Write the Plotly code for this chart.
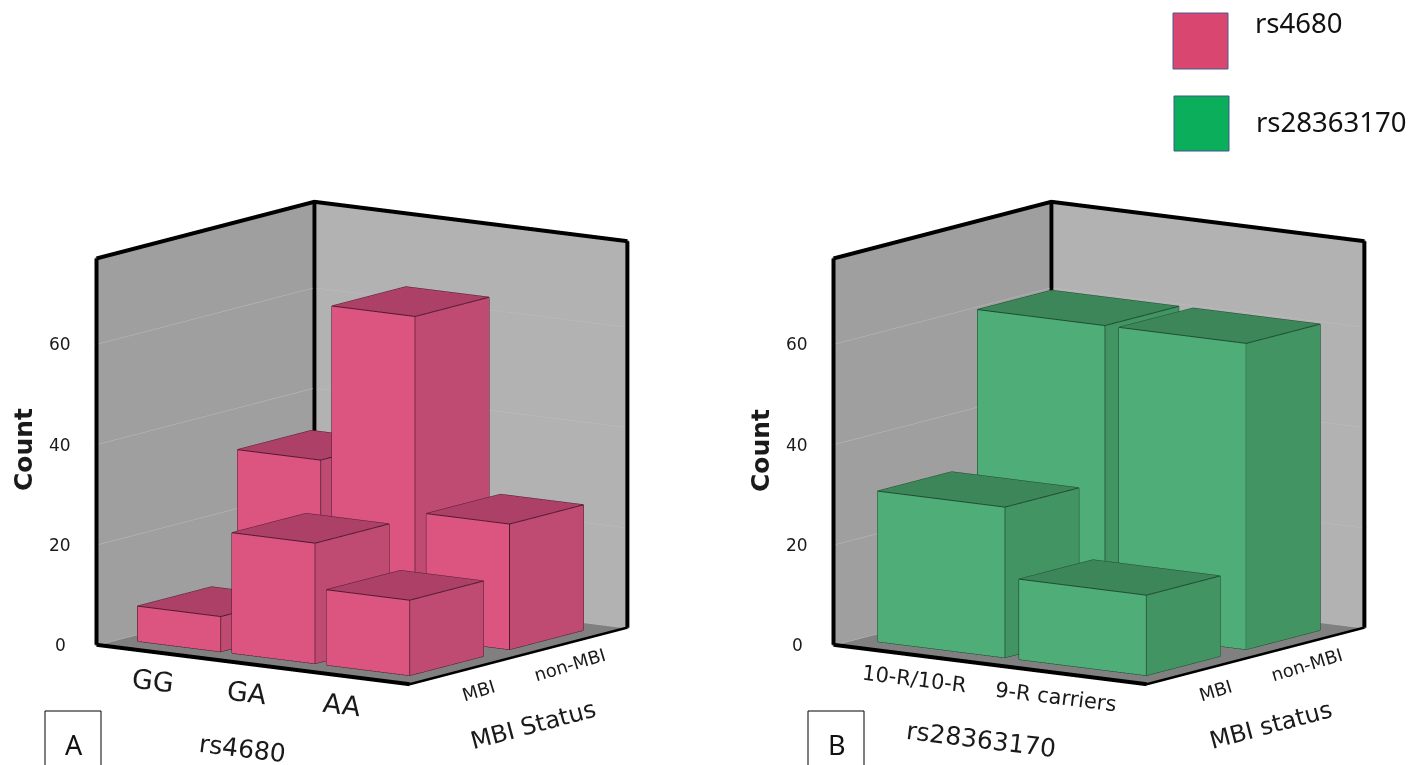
import plotly.graph_objects as go

# ---- data ----
cats_a = ["GG", "GA", "AA"]
cats_b = ["10-R/10-R", "9-R carriers"]
status = ["MBI", "non-MBI"]
mbi_a = [7, 24, 15]
non_a = [33, 64, 25]
mbi_b = [30, 16]
non_b = [61, 61]
z_ticks = [0, 20, 40, 60]
legend_names = ["rs4680", "rs28363170"]

# ---- style ----
W, H = 1422, 765
PINK = dict(front="#dc5580", side="#bf4b72", top="#ac4066", edge="#4d1a30")
GREEN = dict(front="#4fae78", side="#429562", top="#3c8659", edge="#1d4a30")
Z_MAX = 77.4
Y_RANGE = [-0.629, 1.564]
BAR_Y = 0.37
CAM_DIST = 2.0
DIR = (0.565, -0.812, 0.182)


def bar(ix, iy, v, hw, st):
    x0, x1, y0, y1 = ix - hw, ix + hw, iy - BAR_Y, iy + BAR_Y
    xs = [x0, x1, x1, x0, x0, x1, x1, x0]
    ys = [y0, y0, y1, y1, y0, y0, y1, y1]
    zs = [0, 0, 0, 0, v, v, v, v]
    tris = [(0, 1, 5, "front"), (0, 5, 4, "front"), (1, 2, 6, "side"), (1, 6, 5, "side"),
            (4, 5, 6, "top"), (4, 6, 7, "top"), (2, 3, 7, "side"), (2, 7, 6, "side"),
            (3, 0, 4, "side"), (3, 4, 7, "side"), (0, 2, 1, "side"), (0, 3, 2, "side")]
    mesh = go.Mesh3d(x=xs, y=ys, z=zs, i=[t[0] for t in tris], j=[t[1] for t in tris],
                     k=[t[2] for t in tris], facecolor=[st[t[3]] for t in tris],
                     flatshading=True, hoverinfo="skip", showscale=False,
                     lighting=dict(ambient=1, diffuse=0, specular=0, roughness=1, fresnel=0))
    ex, ey, ez = [], [], []
    for a, b in [(0, 1), (1, 2), (4, 5), (5, 6), (6, 7), (7, 4), (0, 4), (1, 5), (2, 6), (3, 0)]:
        ex += [xs[a], xs[b], None]
        ey += [ys[a], ys[b], None]
        ez += [zs[a], zs[b], None]
    edge = go.Scatter3d(x=ex, y=ey, z=ez, mode="lines", line=dict(color=st["edge"], width=2),
                        hoverinfo="skip", showlegend=False)
    return [mesh, edge]


def frame(xr, scene):
    ex_ = (xr[1] - xr[0]) * 0.003
    ey_ = (Y_RANGE[1] - Y_RANGE[0]) * 0.003
    a, b = xr[0] + ex_, xr[1] - ex_
    c, d = Y_RANGE[0] + ey_, Y_RANGE[1] - ey_
    l, z = 0.2, Z_MAX - 0.2
    ex = [a, a, None, a, a, b, None, a, b, None, a, a, None, b, b, None, a, b]
    ey = [c, c, None, c, d, d, None, c, c, None, d, d, None, d, d, None, d, d]
    ez = [l, z, None, z, z, z, None, l, l, None, l, z, None, l, z, None, z, z]
    thick = go.Scatter3d(x=ex, y=ey, z=ez, mode="lines", line=dict(color="black", width=8),
                         hoverinfo="skip", showlegend=False, scene=scene)
    thin = go.Scatter3d(x=[b, b], y=[c, d], z=[l, l], mode="lines", line=dict(color="black", width=5),
                        hoverinfo="skip", showlegend=False, scene=scene)
    return [thick, thin]


def scene_layout(xr, cats, cat_shift, dom_x):
    notes = []
    for i, c in enumerate(cats):
        notes.append(dict(x=i, y=Y_RANGE[0], z=0, text=c, showarrow=False, textangle=7,
                          yshift=cat_shift[0], xshift=cat_shift[1],
                          font=dict(family="DejaVu Sans", size=cat_shift[2], color="#1a1a1a")))
    for i, c in enumerate(status):
        notes.append(dict(x=xr[1], y=i, z=0, text=c, showarrow=False, textangle=-17,
                          yshift=-22, xshift=6 - 8 * i,
                          font=dict(family="DejaVu Sans", size=18, color="#1a1a1a")))
    for t in z_ticks:
        notes.append(dict(x=xr[0], y=Y_RANGE[0], z=t, text=str(t), showarrow=False, xshift=-34,
                          font=dict(family="DejaVu Sans", size=17, color="#1a1a1a")))
    ax = dict(showticklabels=False, showgrid=False, zeroline=False, showspikes=False,
              ticks="", title=dict(text=""))
    return dict(
        domain=dict(x=[(dom_x - 300) / W, (dom_x + 300) / W], y=[(765 - 442.5 - 320) / H, (765 - 442.5 + 320) / H]),
        aspectmode="manual", aspectratio=dict(x=1.199, y=1.199, z=1.234),
        camera=dict(projection=dict(type="orthographic"), up=dict(x=0, y=0, z=1), center=dict(x=0, y=0, z=0),
                    eye=dict(x=DIR[0] * CAM_DIST, y=DIR[1] * CAM_DIST, z=DIR[2] * CAM_DIST)),
        xaxis=dict(ax, range=xr, showbackground=True, backgroundcolor="#9f9f9f"),
        yaxis=dict(ax, range=Y_RANGE, showbackground=True, backgroundcolor="#b2b2b2"),
        zaxis=dict(range=[0, Z_MAX], tickvals=z_ticks, showticklabels=False, showgrid=True,
                   gridcolor="#bdbdbd", gridwidth=1, zeroline=False, showspikes=False, ticks="",
                   title=dict(text=""), showbackground=True, backgroundcolor="#808080"),
        annotations=notes,
    )


fig = go.Figure()
XR_A = [-0.617, 2.717]
XR_B = [-0.59, 1.637]
for name, cats, lo, hi, hw, st, xr in [("scene", cats_a, mbi_a, non_a, 0.44, PINK, XR_A),
                                       ("scene2", cats_b, mbi_b, non_b, 0.45, GREEN, XR_B)]:
    fig.add_traces(frame(xr, name))
    for iy, vals in [(1, hi), (0, lo)]:
        for ix, v in enumerate(vals):
            for t in bar(ix, iy, v, hw, st):
                t.update(scene=name)
                fig.add_trace(t)


def txt(x, y, s, size, angle=0, family="DejaVu Sans", bold=False, color="#1a1a1a"):
    return dict(x=x / W, y=1 - y / H, xref="paper", yref="paper", text=f"<b>{s}</b>" if bold else s,
                showarrow=False, textangle=angle, xanchor="center", yanchor="middle",
                font=dict(family=family, size=size, color=color))


shapes = [
    dict(type="rect", xref="paper", yref="paper", x0=1173 / W, x1=1228 / W, y0=1 - 13 / H, y1=1 - 69 / H,
         fillcolor="#d9466f", line=dict(color="#4a5a90", width=1)),
    dict(type="rect", xref="paper", yref="paper", x0=1174 / W, x1=1229 / W, y0=1 - 96 / H, y1=1 - 151 / H,
         fillcolor="#0bae5b", line=dict(color="#3a5a90", width=1)),
    dict(type="rect", xref="paper", yref="paper", x0=45 / W, x1=101 / W, y0=1 - 711 / H, y1=1 - 770 / H,
         fillcolor="white", line=dict(color="black", width=1)),
    dict(type="rect", xref="paper", yref="paper", x0=808 / W, x1=864 / W, y0=1 - 711 / H, y1=1 - 770 / H,
         fillcolor="white", line=dict(color="black", width=1)),
]
annotations = [
    txt(1298.5, 22, legend_names[0], 27.5, family="Noto Sans", color="#111"),
    txt(1331, 122, legend_names[1], 27.5, family="Noto Sans", color="#111"),
    txt(74, 744, "A", 27, family="Noto Sans", color="#111"),
    txt(837, 744, "B", 27, family="Noto Sans", color="#111"),
    txt(23, 450, "Count", 25, angle=-90, bold=True),
    txt(760, 450, "Count", 25, angle=-90, bold=True),
    txt(242, 748, "rs4680", 25, angle=7),
    txt(981, 739, "rs28363170", 25, angle=7),
    txt(533, 725, "MBI Status", 24, angle=-15),
    txt(1271, 725, "MBI status", 24, angle=-15),
]

fig.update_layout(
    width=W, height=H, margin=dict(l=0, r=0, t=0, b=0), paper_bgcolor="white", showlegend=False,
    scene=scene_layout(XR_A, cats_a, (-28, 0, 27), 361.5),
    scene2=scene_layout(XR_B, cats_b, (-23, 0, 21), 1098.5),
    shapes=shapes, annotations=annotations,
)
fig.write_html("out.html", config=dict(displayModeBar=False),
               post_script="document.body.style.margin='0';document.documentElement.style.overflow='hidden';")
